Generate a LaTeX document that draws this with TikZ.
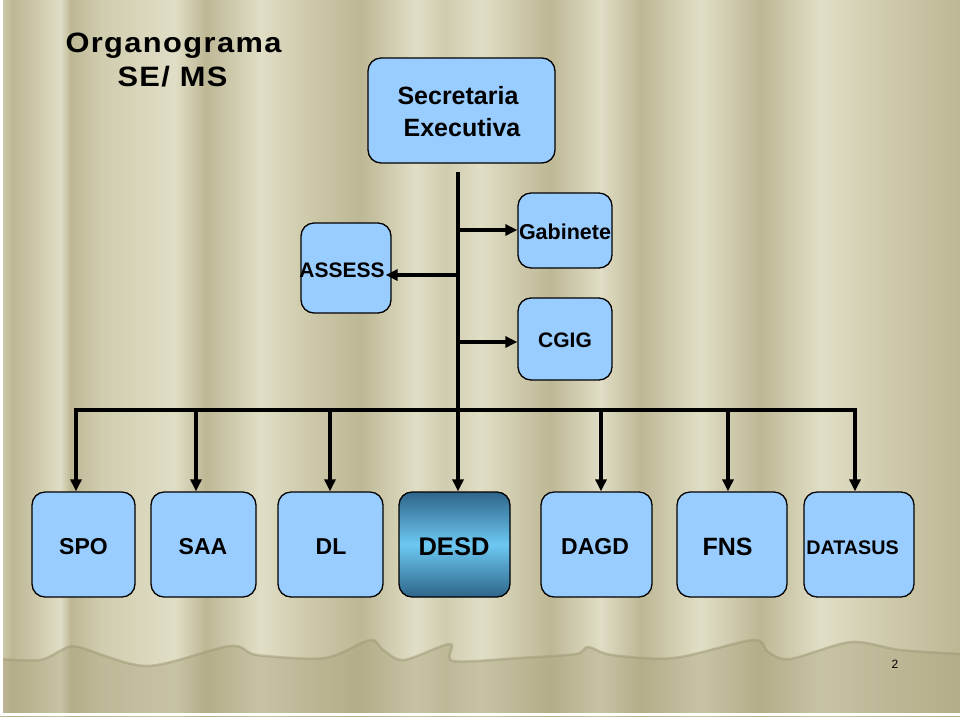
\documentclass[tikz,border=0pt]{standalone}
\usepackage{fontspec}
\setmainfont{Liberation Sans}
\newfontfamily\titlefont{Liberation Sans}[LetterSpace=5, FakeStretch=1.1]
\usetikzlibrary{arrows.meta}
\definecolor{bgL}{HTML}{E0DEC6}
\definecolor{bgM}{HTML}{D0CCAE}
\definecolor{bgD}{HTML}{BDB794}
\definecolor{wavecol}{HTML}{A9A27C}
\definecolor{waveline}{HTML}{9E9874}
\definecolor{boxblue}{HTML}{99CCFF}
\definecolor{desdD}{HTML}{2E6589}
\definecolor{desdL}{HTML}{6CC8F2}
\begin{document}
\begin{tikzpicture}[x=1pt,y=-1pt,
  box/.style={draw=black, line width=1.3pt, rounded corners=13pt, fill=boxblue, inner sep=0pt},
  lowbox/.style={box, minimum height=105pt},
  lbl/.style={anchor=base, inner sep=0pt, font=\bfseries, text=black},
  arr/.style={line width=3.5pt, -{Triangle[length=12pt,width=11pt]}},
  bar/.style={line width=3.5pt}]
\useasboundingbox (0,0) rectangle (960,716);
% background curtain stripes
\foreach \xa/\xb/\ca/\cb in {0/12/bgM/bgD, 12/40/bgD/bgM, 40/60/bgM/bgL, 60/70/bgL/bgD, 70/100/bgD/bgM,
  100/175/bgM/bgL, 175/205/bgL/bgD, 205/260/bgD/bgL, 260/300/bgL/bgM, 300/360/bgM/bgD,
  360/415/bgD/bgL, 415/445/bgL/bgM, 445/480/bgM/bgL, 480/550/bgL/bgD, 550/600/bgD/bgL,
  600/640/bgL/bgD, 640/700/bgD/bgL, 700/760/bgL/bgD, 760/820/bgD/bgL, 820/880/bgL/bgM, 880/960/bgM/bgD}
  \shade[left color=\ca, right color=\cb] (\xa,0) rectangle (\xb+1,716);
% wavy lower hem
\fill[wavecol, opacity=0.45] plot[smooth, tension=0.5] coordinates {(-2,659) (40,660) (62,650) (78,647) (147,666) (230,646) (257,655) (325,658) (370,640) (383,650) (404,660) (450,644) (453,661) (520,658) (576,654) (588,647) (612,655) (674,658) (753,640) (768,652) (790,659) (851,642) (900,650) (962,654)} -- (962,718) -- (-2,718) -- cycle;
\draw[waveline, line width=2.5pt, opacity=0.5] plot[smooth, tension=0.5] coordinates {(-2,659) (40,660) (62,650) (78,647) (147,666) (230,646) (257,655) (325,658) (370,640) (383,650) (404,660) (450,644) (453,661) (520,658) (576,654) (588,647) (612,655) (674,658) (753,640) (768,652) (790,659) (851,642) (900,650) (962,654)};
\fill[white] (0,0) rectangle (3,716);
\fill[white] (0,713) rectangle (960,716);
% title
\node[lbl, font=\titlefont\bfseries\fontsize{28}{28}\selectfont] (t1) at (173.5,52) {Organograma};
\node[lbl, font=\titlefont\bfseries\fontsize{28}{28}\selectfont] (t2) at (172.5,86) {SE/ MS};
% boxes
\node[box, minimum width=187pt, minimum height=105pt] (SE) at (461.5,110.5) {};
\node[box, minimum width=90pt, minimum height=90pt] (AS) at (346,268) {};
\node[box, minimum width=94pt, minimum height=75pt] (GA) at (565,230.5) {};
\node[box, minimum width=94pt, minimum height=82pt] (CG) at (565,339) {};
\node[lowbox, minimum width=103pt] (SPO) at (83.5,544.5) {};
\node[lowbox, minimum width=105pt] (SAA) at (203.5,544.5) {};
\node[lowbox, minimum width=105pt] (DL) at (330.5,544.5) {};
\node[lowbox, minimum width=111pt, top color=desdD, bottom color=desdD, middle color=desdL] (DESD) at (454.5,544.5) {};
\node[lowbox, minimum width=111pt] (DAGD) at (596.5,544.5) {};
\node[lowbox, minimum width=110pt] (FNS) at (732,544.5) {};
\node[lowbox, minimum width=110pt] (DATASUS) at (859,544.5) {};
% connectors
\coordinate (top) at (458,172);
\coordinate (vAS) at (458,275);
\coordinate (vGA) at (458,230);
\coordinate (vCG) at (458,342);
\coordinate (bl) at (76,410);
\coordinate (br) at (855,410);
\coordinate (b1) at (76,410);
\coordinate (b2) at (196,410);
\coordinate (b3) at (330,410);
\coordinate (b5) at (601,410);
\coordinate (b6) at (728,410);
\coordinate (b7) at (855,410);
\draw[arr] (top) -- (top |- DESD.north);
\draw[arr, shorten >=-6pt] (vAS) -- (vAS -| AS.east);
\draw[arr] (vGA) -- (vGA -| GA.west);
\draw[arr] (vCG) -- (vCG -| CG.west);
\draw[bar, line cap=rect] (bl) -- (br);
\draw[arr] (b1) -- (b1 |- SPO.north);
\draw[arr] (b2) -- (b2 |- SAA.north);
\draw[arr] (b3) -- (b3 |- DL.north);
\draw[arr] (b5) -- (b5 |- DAGD.north);
\draw[arr] (b6) -- (b6 |- FNS.north);
\draw[arr] (b7) -- (b7 |- DATASUS.north);
% labels
\node[lbl, font=\bfseries\fontsize{25}{25}\selectfont] (lSE1) at (458,104) {Secretaria};
\node[lbl, font=\bfseries\fontsize{25}{25}\selectfont] (lSE2) at (462,136) {Executiva};
\node[lbl, font=\bfseries\fontsize{21}{21}\selectfont] (lAS) at (342,277) {ASSESS};
\node[lbl, font=\bfseries\fontsize{21.5}{21.5}\selectfont] (lGA) at (565,239) {Gabinete};
\node[lbl, font=\bfseries\fontsize{21}{21}\selectfont] (lCG) at (565,347) {CGIG};
\node[lbl, font=\bfseries\fontsize{23}{23}\selectfont] (lSPO) at (83.5,554) {SPO};
\node[lbl, font=\bfseries\fontsize{23}{23}\selectfont] (lSAA) at (203,554) {SAA};
\node[lbl, font=\bfseries\fontsize{23}{23}\selectfont] (lDL) at (331,554) {DL};
\node[lbl, font=\bfseries\fontsize{25.5}{25.5}\selectfont] (lDESD) at (454,555) {DESD};
\node[lbl, font=\bfseries\fontsize{23}{23}\selectfont] (lDAGD) at (595,554) {DAGD};
\node[lbl, font=\bfseries\fontsize{25}{25}\selectfont] (lFNS) at (727.5,555) {FNS};
\node[lbl, font=\bfseries\fontsize{19.7}{19.7}\selectfont] (lDATASUS) at (852.5,554) {DATASUS};
\node[lbl, font=\fontsize{12}{12}\selectfont] (pg) at (895,668) {2};
\end{tikzpicture}
\end{document}
